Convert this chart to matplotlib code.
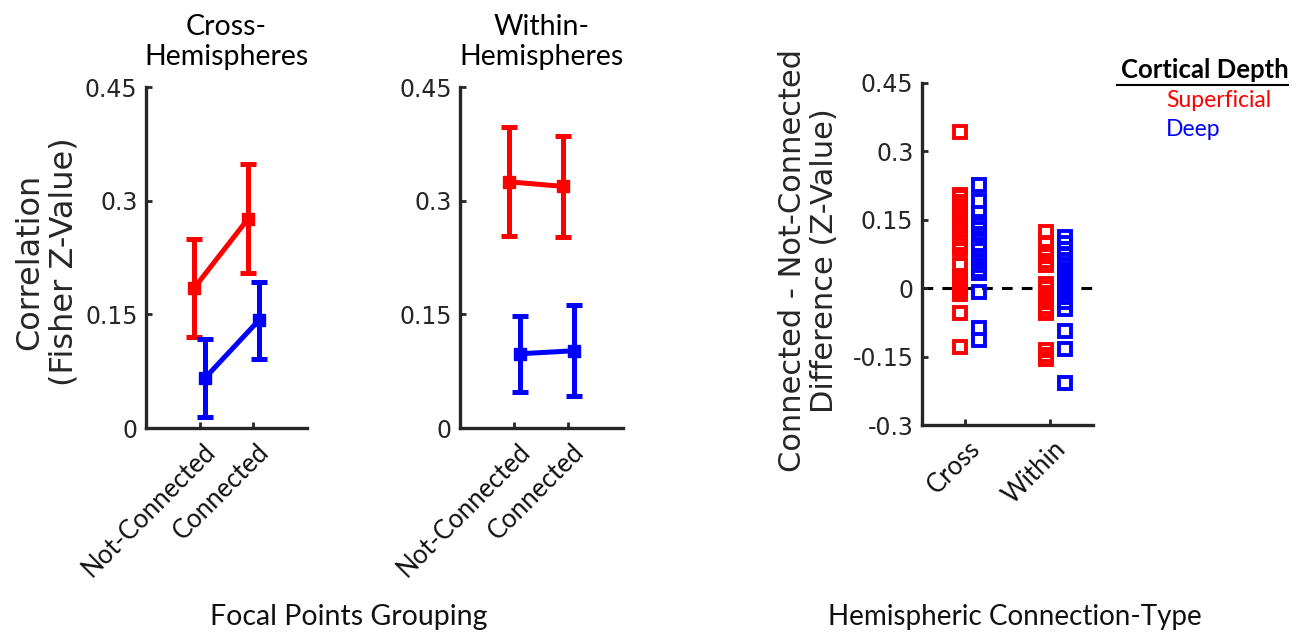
import matplotlib
matplotlib.use("Agg")
import matplotlib.pyplot as plt
from matplotlib.transforms import ScaledTranslation

# group means and errors
groups = ["Not-Connected", "Connected"]
cross_sup = [0.185, 0.276]
cross_sup_err = [0.065, 0.072]
cross_deep = [0.066, 0.142]
cross_deep_err = [0.051, 0.051]
within_sup = [0.325, 0.319]
within_sup_err = [0.072, 0.067]
within_deep = [0.098, 0.102]
within_deep_err = [0.050, 0.060]

# per-subject differences (connected - not connected)
types = ["Cross", "Within"]
diff_cross_sup = [0.342, 0.205, 0.2, 0.19, 0.18, 0.165, 0.155, 0.145, 0.135, 0.125,
                  0.11, 0.1, 0.095, 0.085, 0.05, 0.028, 0.02, 0.012, 0.005, 0.0,
                  -0.005, -0.012, -0.055, -0.128]
diff_cross_deep = [0.226, 0.192, 0.164, 0.145, 0.13, 0.12, 0.11, 0.095, 0.085, 0.07,
                   0.06, 0.05, 0.04, 0.034, -0.009, -0.086, -0.113]
diff_within_sup = [0.124, 0.099, 0.08, 0.07, 0.06, 0.05, 0.01, 0.0, -0.01, -0.02,
                   -0.03, -0.04, -0.05, -0.055, -0.135, -0.145, -0.155]
diff_within_deep = [0.112, 0.1, 0.085, 0.075, 0.062, 0.05, 0.04, 0.03, 0.02, 0.01,
                    0.0, -0.01, -0.02, -0.03, -0.045, -0.093, -0.134, -0.207]

RED = "#ff0000"
BLUE = "#0000ff"
AXC = "#262626"
TXT = "Lato"

fig = plt.figure(figsize=(13.02, 6.36), dpi=100)


def style_axes(ax):
    for s in ["top", "right"]:
        ax.spines[s].set_visible(False)
    for s in ["left", "bottom"]:
        ax.spines[s].set_linewidth(2.4)
        ax.spines[s].set_color(AXC)
    ax.tick_params(direction="in", length=4, width=2, color=AXC,
                   labelcolor=AXC, labelsize=17, pad=6)
    ax.tick_params(axis="x", pad=4)


def xlabels(ax, labels):
    ax.set_xticklabels(labels, rotation=45, rotation_mode="anchor",
                       ha="right", va="center", fontsize=18.5, family=TXT,
                       color="#111111")
    off = ScaledTranslation(12 / 100, -14 / 100, fig.dpi_scale_trans)
    for lab in ax.get_xticklabels():
        lab.set_transform(lab.get_transform() + off)


def line_panel(rect, sup, sup_err, deep, deep_err, title):
    ax = fig.add_axes(rect)
    x = [1, 2]
    ekw = dict(lw=3.6, capsize=6, capthick=3.6, marker="s", ms=8.5)
    ax.errorbar([v - 0.1 for v in x], sup, yerr=sup_err, color=RED, **ekw)
    ax.errorbar([v + 0.1 for v in x], deep, yerr=deep_err, color=BLUE, **ekw)
    ax.set_xlim(0, 3)
    ax.set_ylim(0, 0.45)
    ax.set_yticks([0, 0.15, 0.3, 0.45])
    ax.set_yticklabels(["0", "0.15", "0.3", "0.45"])
    ax.set_xticks(x)
    style_axes(ax)
    xlabels(ax, groups)
    ax.set_title(title, family=TXT, fontsize=20.5, pad=16, linespacing=1.2)
    return ax


ax1 = line_panel([0.1121, 0.327, 0.1237, 0.536], cross_sup, cross_sup_err,
                 cross_deep, cross_deep_err, "Cross-\nHemispheres")
ax2 = line_panel([0.3533, 0.327, 0.1250, 0.536], within_sup, within_sup_err,
                 within_deep, within_deep_err, "Within-\nHemispheres")

fig.text(0.036, 0.588, "Correlation\n(Fisher Z-Value)", rotation=90,
         ha="center", va="center", fontsize=23, color=AXC, linespacing=1.1)
fig.text(0.268, 0.03, "Focal Points Grouping", ha="center", va="center",
         family=TXT, fontsize=20.5, color="#111111")

# difference scatter
ax3 = fig.add_axes([0.708, 0.3313, 0.1313, 0.5385])
mkw = dict(ls="none", marker="s", ms=8.5, mew=2.8, mfc="none")
ax3.axhline(0, color="black", lw=2.2, ls=(0, (3.5, 3)), zorder=0)
for i, (s, d) in enumerate([(diff_cross_sup, diff_cross_deep),
                            (diff_within_sup, diff_within_deep)]):
    ax3.plot([i + 1 - 0.05] * len(s), s, color=RED, mec=RED, **mkw)
    ax3.plot([i + 1 + 0.17] * len(d), d, color=BLUE, mec=BLUE, **mkw)
ax3.set_xlim(0.5, 2.5)
ax3.set_ylim(-0.3, 0.45)
ax3.set_yticks([-0.3, -0.15, 0, 0.15, 0.3, 0.45])
ax3.set_yticklabels(["-0.3", "-0.15", "0", "0.15", "0.3", "0.45"])
ax3.set_xticks([1, 2])
style_axes(ax3)
xlabels(ax3, types)

fig.text(0.621, 0.59, "Connected - Not-Connected\nDifference (Z-Value)",
         rotation=90, ha="center", va="center", fontsize=22, color=AXC,
         linespacing=1.1)
fig.text(0.7796, 0.03, "Hemispheric Connection-Type", ha="center",
         va="center", family=TXT, fontsize=20, color="#111111")

# legend as text
fig.text(0.9255, 0.89, "Cortical Depth", family=TXT, fontsize=18.5,
         weight="bold", ha="center", va="center")
fig.add_artist(plt.Line2D([0.858, 0.989], [0.866, 0.866], color="black",
                          lw=1.5))
fig.text(0.8955, 0.842, "Superficial", family=TXT, fontsize=16.5, color=RED,
         va="center")
fig.text(0.8955, 0.796, "Deep", family=TXT, fontsize=16.5, color=BLUE,
         va="center")

fig.savefig("out.png", dpi=100)
